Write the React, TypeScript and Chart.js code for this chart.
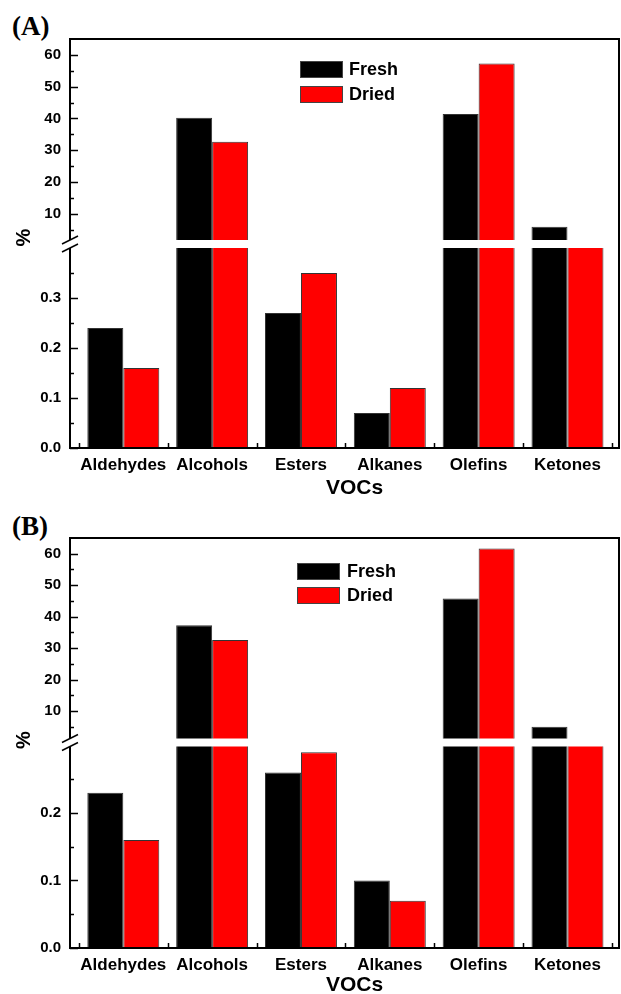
import React, { useEffect, useRef } from "react";
import { Chart, registerables } from "chart.js";
Chart.register(...registerables);

const categories = ["Aldehydes", "Alcohols", "Esters", "Alkanes", "Olefins", "Ketones"];
const seriesNames = ["Fresh", "Dried"];
const freshA = [0.24, 40.2, 0.27, 0.07, 41.4, 5.9];
const driedA = [0.16, 32.7, 0.35, 0.12, 57.3, 1.0];
const freshB = [0.23, 37.3, 0.26, 0.1, 45.8, 5.0];
const driedB = [0.16, 32.6, 0.29, 0.07, 61.7, 1.0];
const upperTicks = [10, 20, 30, 40, 50, 60];
const upperMinor = [5, 15, 25, 35, 45, 55];
const lowerTicksA = [0, 0.1, 0.2, 0.3];
const lowerMinorA = [0.05, 0.15, 0.25, 0.35];
const lowerTicksB = [0, 0.1, 0.2];
const lowerMinorB = [0.05, 0.15, 0.25];
const xTitle = "VOCs";
const yTitle = "%";

const FONT = "'Liberation Sans', Arial, sans-serif";
const COLORS = ["#000000", "#ff0000"];

type PanelCfg = {
  tag: string;
  top: number;
  height: number;
  padTop: number;
  xHeight: number;
  fresh: number[];
  dried: number[];
  highMin: number;
  highMax: number;
  lowMax: number;
  highWeight: number;
  lowWeight: number;
  lowTicks: number[];
  lowMinor: number[];
  legendX: number;
  legendY: number;
  legendStep: number;
  legendTextX: number;
  pctY: number;
  vocY: number;
  tagTop: number;
};

const panels: PanelCfg[] = [
  {
    tag: "(A)", top: 0, height: 500, padTop: 39, xHeight: 52,
    fresh: freshA, dried: driedA,
    highMin: 0.5, highMax: 65, lowMax: 0.408, highWeight: 205, lowWeight: 204,
    lowTicks: lowerTicksA, lowMinor: lowerMinorA,
    legendX: 300, legendY: 61, legendStep: 25, legendTextX: 349,
    pctY: 237.5, vocY: 488, tagTop: 13,
  },
  {
    tag: "(B)", top: 500, height: 494, padTop: 38, xHeight: 46,
    fresh: freshB, dried: driedB,
    highMin: 0, highMax: 65, lowMax: 0.3044, highWeight: 204.5, lowWeight: 205.5,
    lowTicks: lowerTicksB, lowMinor: lowerMinorB,
    legendX: 297, legendY: 63, legendStep: 24, legendTextX: 347,
    pctY: 240, vocY: 485, tagTop: 513,
  },
];

const GAP = 4;

function makePlugin(p: PanelCfg) {
  return {
    id: "panelDecor",
    beforeDatasetDraw(chart: any, args: any) {
      const meta = args.meta;
      const ys = chart.scales[meta.yAxisID];
      const ca = chart.chartArea;
      let top = ys.top;
      let bottom = ys.bottom;
      if (meta.yAxisID === "yHigh") bottom -= GAP;
      else top += GAP;
      const ctx = chart.ctx;
      ctx.save();
      ctx.beginPath();
      ctx.rect(ca.left, top, ca.right - ca.left, bottom - top);
      ctx.clip();
    },
    afterDatasetDraw(chart: any) {
      chart.ctx.restore();
    },
    afterDraw(chart: any) {
      const ctx = chart.ctx;
      const ca = chart.chartArea;
      const yH = chart.scales.yHigh;
      const yL = chart.scales.yLow;
      const xs = chart.scales.x;
      ctx.save();
      ctx.strokeStyle = "#000";
      ctx.lineWidth = 2;
      ctx.strokeRect(ca.left, ca.top, ca.right - ca.left, ca.bottom - ca.top);

      ctx.lineWidth = 1.5;
      const tick = (scale: any, vals: number[], len: number) => {
        for (const v of vals) {
          const y = Math.round(scale.getPixelForValue(v)) + 0.5;
          ctx.beginPath();
          ctx.moveTo(ca.left, y);
          ctx.lineTo(ca.left + len, y);
          ctx.stroke();
        }
      };
      tick(yH, upperTicks, 8);
      tick(yH, upperMinor, 4);
      tick(yL, p.lowTicks, 8);
      tick(yL, p.lowMinor, 4);
      for (let i = 0; i <= categories.length; i++) {
        const x = Math.round(xs.getPixelForValue(i - 0.5)) + 0.5;
        ctx.beginPath();
        ctx.moveTo(x, ca.bottom);
        ctx.lineTo(x, ca.bottom - 5);
        ctx.stroke();
      }

      // axis break
      const b = yH.bottom;
      const gTop = b - GAP;
      const gBot = b + GAP;
      ctx.fillStyle = "#fff";
      ctx.fillRect(ca.left - 2, gTop, 4, gBot - gTop);
      ctx.strokeStyle = "#000";
      ctx.lineWidth = 1.5;
      for (const yy of [gTop, gBot]) {
        ctx.beginPath();
        ctx.moveTo(ca.left - 8, yy + 4);
        ctx.lineTo(ca.left + 8, yy - 4);
        ctx.stroke();
      }

      // y title
      ctx.fillStyle = "#000";
      ctx.font = `bold 20px ${FONT}`;
      ctx.textAlign = "center";
      ctx.textBaseline = "middle";
      ctx.save();
      ctx.translate(24, p.pctY);
      ctx.rotate(-Math.PI / 2);
      ctx.fillText(yTitle, 0, 0);
      ctx.restore();

      // x title
      ctx.font = `bold 21px ${FONT}`;
      ctx.fillText(xTitle, 354.5, p.vocY);

      // legend
      ctx.font = `bold 18px ${FONT}`;
      ctx.textAlign = "left";
      seriesNames.forEach((name, i) => {
        const y = p.legendY + i * p.legendStep;
        ctx.fillStyle = COLORS[i];
        ctx.fillRect(p.legendX, y, 43, 17);
        ctx.strokeStyle = "#444";
        ctx.lineWidth = 1;
        ctx.strokeRect(p.legendX + 0.5, y + 0.5, 42, 16);
        ctx.fillStyle = "#000";
        ctx.fillText(name, p.legendTextX, y + 9);
      });
      ctx.restore();
    },
  };
}

function Panel({ p }: { p: PanelCfg }) {
  const ref = useRef<HTMLCanvasElement | null>(null);
  useEffect(() => {
    if (!ref.current) return;
    const pts = (arr: number[]) => arr.map((v, i) => ({ x: i, y: v }));
    const mk = (i: number, data: number[], axis: string) => ({
      label: seriesNames[i],
      data: pts(data),
      yAxisID: axis,
      xAxisID: "x",
      stack: seriesNames[i],
      backgroundColor: COLORS[i],
      borderColor: "#333",
      borderWidth: 1,
      barPercentage: 1,
      categoryPercentage: 0.81,
    });
    const tickFont = { family: FONT, size: 15, weight: "bold" as const };
    const yCommon = {
      type: "linear" as const,
      position: "left" as const,
      stack: "y",
      stacked: false,
      bounds: "data" as const,
      offset: false,
      grid: { display: false, drawTicks: false },
      border: { display: false },
      afterFit: (s: any) => {
        s.width = 70;
      },
    };
    const chart = new Chart(ref.current, {
      type: "bar",
      data: {
        datasets: [
          mk(0, p.fresh, "yHigh"),
          mk(1, p.dried, "yHigh"),
          mk(0, p.fresh, "yLow"),
          mk(1, p.dried, "yLow"),
        ] as any,
      },
      options: {
        animation: false,
        responsive: false,
        devicePixelRatio: 1,
        events: [],
        layout: { padding: { top: p.padTop, left: 0, right: 2, bottom: 0 } },
        plugins: { legend: { display: false }, tooltip: { enabled: false } },
        scales: {
          x: {
            type: "linear",
            position: "bottom",
            min: -0.6,
            max: 5.58,
            offset: false,
            bounds: "data",
            grid: { display: false, drawTicks: false, offset: false },
            border: { display: false },
            afterBuildTicks: (s: any) => {
              s.ticks = categories.map((_, i) => ({ value: i }));
            },
            afterFit: (s: any) => {
              s.height = p.xHeight;
            },
            ticks: {
              autoSkip: false,
              maxRotation: 0,
              minRotation: 0,
              padding: 7,
              color: "#000",
              font: { family: FONT, size: 17, weight: "bold" },
              callback: (v: any) => categories[Math.round(Number(v))] ?? "",
            },
          },
          yHigh: {
            ...yCommon,
            weight: 1,
            stackWeight: p.highWeight,
            min: p.highMin,
            max: p.highMax,
            afterBuildTicks: (s: any) => {
              s.ticks = upperTicks.map((v) => ({ value: v }));
            },
            ticks: {
              padding: 9,
              color: "#000",
              font: tickFont,
              callback: (v: any) => String(v),
            },
          },
          yLow: {
            ...yCommon,
            weight: 0,
            stackWeight: p.lowWeight,
            min: 0,
            max: p.lowMax,
            afterBuildTicks: (s: any) => {
              s.ticks = p.lowTicks.map((v) => ({ value: v }));
            },
            ticks: {
              padding: 9,
              color: "#000",
              font: tickFont,
              callback: (v: any) => Number(v).toFixed(1),
            },
          },
        } as any,
      },
      plugins: [makePlugin(p)],
    });
    return () => chart.destroy();
  }, [p]);
  return (
    <>
      <div
        style={{
          position: "absolute",
          left: 12,
          top: p.tagTop,
          font: "bold 27px 'Liberation Serif', 'Times New Roman', serif",
          lineHeight: "27px",
          color: "#000",
        }}
      >
        {p.tag}
      </div>
      <canvas
        ref={ref}
        width={621}
        height={p.height}
        style={{ position: "absolute", left: 0, top: p.top, width: 621, height: p.height }}
      />
    </>
  );
}

export default function App() {
  return (
    <div
      style={{
        position: "absolute",
        left: 0,
        top: 0,
        width: 621,
        height: 994,
        overflow: "hidden",
        background: "#fff",
      }}
    >
      {panels.map((p) => (
        <Panel key={p.tag} p={p} />
      ))}
    </div>
  );
}
